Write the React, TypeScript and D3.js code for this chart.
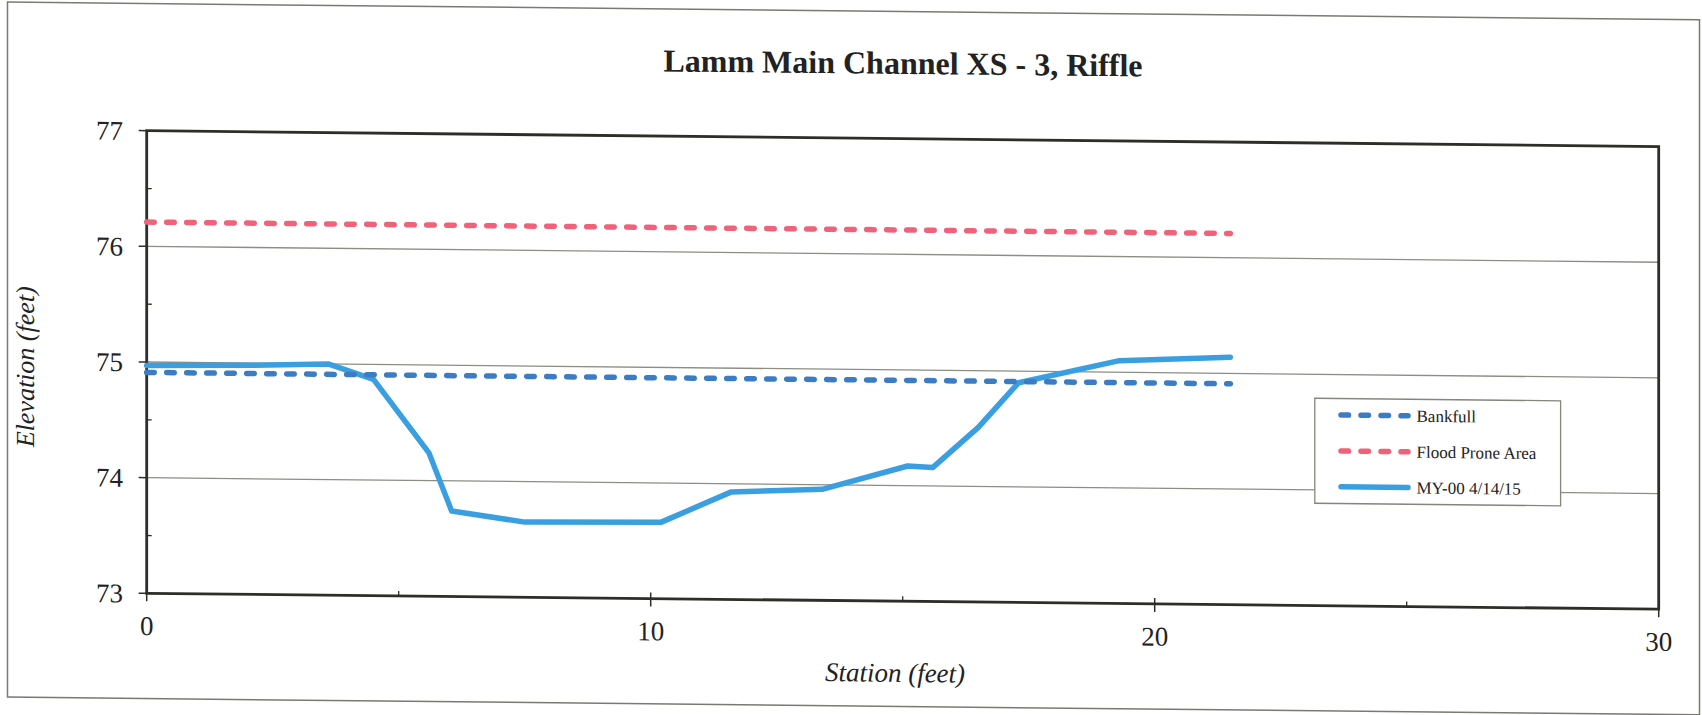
import React from "react";
import * as d3 from "d3";

// Surveyed cross-section (station ft, elevation ft)
const stations = [0, 2.0, 3.6, 4.5, 5.6, 6.05, 7.5, 10.2, 11.6, 13.4, 15.1, 15.6, 16.5, 17.3, 19.3, 21.5];
const elevations = [74.97, 74.98, 75.0, 74.87, 74.24, 73.74, 73.65, 73.66, 73.93, 73.96, 74.17, 74.16, 74.51, 74.9, 75.1, 75.14];

// Reference elevations drawn across the section
const refStations = [0, 21.5];
const bankfullElev = [74.91, 74.91];
const floodProneElev = [76.21, 76.21];

const xTicks = [0, 10, 20, 30];
const xMinorTicks = [5, 15, 25];
const yTicks = [73, 74, 75, 76, 77];
const yMinorTicks = [73.5, 74.5, 75.5, 76.5];
const gridValues = [74, 75, 76];

const legendLabels = ["Bankfull", "Flood Prone Area", "MY-00 4/14/15"];

const W = 1702;
const H = 715;
const plot = { left: 146.7, right: 1658.7, top: 130.7, bottom: 593.3 };
const SLOPE = 0.0105;

const C_BANK = "#3b7cc4";
const C_FLOOD = "#f0627a";
const C_SURVEY = "#3a9fe0";
const FONT = "'Liberation Serif', 'Times New Roman', serif";
const DASH = "7.5,12.5";

export default function App() {
  const x = d3.scaleLinear().domain([0, 30]).range([plot.left, plot.right]);
  const y = d3.scaleLinear().domain([73, 77]).range([plot.bottom, plot.top]);

  const line = d3
    .line<[number, number]>()
    .x((d) => x(d[0]))
    .y((d) => y(d[1]));

  const survey = line(stations.map((s, i) => [s, elevations[i]] as [number, number])) || "";
  const bankfull = line(refStations.map((s, i) => [s, bankfullElev[i]] as [number, number])) || "";
  const flood = line(refStations.map((s, i) => [s, floodProneElev[i]] as [number, number])) || "";

  const legend = { left: 1314.8, right: 1560.6, top: 386, bottom: 491 };
  const legendRows = [402.5, 438.5, 474.2];
  const legendStyles = [
    { stroke: C_BANK, dash: DASH as string | undefined },
    { stroke: C_FLOOD, dash: DASH as string | undefined },
    { stroke: C_SURVEY, dash: undefined as string | undefined },
  ];

  return (
    <svg
      width={W}
      height={H}
      style={{ position: "absolute", left: 0, top: 0, background: "#fff" }}
      fontFamily={FONT}
    >
      <rect x={0} y={0} width={W} height={H} fill="#fff" />
      <g transform={`matrix(1, ${SLOPE}, 0, 1, 0, ${-plot.left * SLOPE})`}>
        {/* chart frame */}
        <rect x={7.5} y={3.5} width={1692} height={695} fill="none" stroke="#7a7a72" strokeWidth={1.5} />

        <text x={903} y={66} textAnchor="middle" fontSize={32} fontWeight="bold" fill="#222">
          Lamm Main Channel XS - 3, Riffle
        </text>

        {/* gridlines */}
        {gridValues.map((v) => (
          <line key={v} x1={plot.left} x2={plot.right} y1={y(v)} y2={y(v)} stroke="#8d8d84" strokeWidth={1.3} />
        ))}

        {/* plot area border */}
        <rect
          x={plot.left}
          y={plot.top}
          width={plot.right - plot.left}
          height={plot.bottom - plot.top}
          fill="none"
          stroke="#2e2e28"
          strokeWidth={2.8}
        />

        {/* y axis ticks */}
        {yTicks.map((v) => (
          <g key={v}>
            <line x1={plot.left - 8} x2={plot.left} y1={y(v)} y2={y(v)} stroke="#2e2e28" strokeWidth={1.5} />
            <text x={123} y={y(v)} dy="0.35em" textAnchor="end" fontSize={27} fill="#222">
              {v}
            </text>
          </g>
        ))}
        {yMinorTicks.map((v) => (
          <line key={v} x1={plot.left} x2={plot.left + 5} y1={y(v)} y2={y(v)} stroke="#2e2e28" strokeWidth={1.3} />
        ))}

        {/* x axis ticks */}
        {xTicks.map((v) => (
          <g key={v}>
            <line x1={x(v)} x2={x(v)} y1={plot.bottom - 6} y2={plot.bottom + 8} stroke="#2e2e28" strokeWidth={1.5} />
            <text x={x(v)} y={635} textAnchor="middle" fontSize={27} fill="#222">
              {v}
            </text>
          </g>
        ))}
        {xMinorTicks.map((v) => (
          <line key={v} x1={x(v)} x2={x(v)} y1={plot.bottom - 5} y2={plot.bottom} stroke="#2e2e28" strokeWidth={1.3} />
        ))}

        {/* axis titles */}
        <text x={895} y={674} textAnchor="middle" fontSize={27} fontStyle="italic" fill="#222">
          Station (feet)
        </text>
        <text
          transform="translate(34, 368) rotate(-90)"
          textAnchor="middle"
          fontSize={26}
          fontStyle="italic"
          fill="#222"
        >
          Elevation (feet)
        </text>

        {/* series */}
        <path d={flood} fill="none" stroke={C_FLOOD} strokeWidth={5.5} strokeDasharray={DASH} strokeLinecap="round" />
        <path d={survey} fill="none" stroke={C_SURVEY} strokeWidth={5.5} strokeLinejoin="round" strokeLinecap="round" />
        <path d={bankfull} fill="none" stroke={C_BANK} strokeWidth={5.5} strokeDasharray={DASH} strokeLinecap="round" />

        {/* legend */}
        <rect
          x={legend.left}
          y={legend.top}
          width={legend.right - legend.left}
          height={legend.bottom - legend.top}
          fill="#fff"
          stroke="#85857c"
          strokeWidth={1.3}
        />
        {legendLabels.map((label, i) => (
          <g key={label}>
            <line
              x1={1341}
              x2={1408}
              y1={legendRows[i]}
              y2={legendRows[i]}
              stroke={legendStyles[i].stroke}
              strokeWidth={5.5}
              strokeDasharray={legendStyles[i].dash}
              strokeLinecap="round"
            />
            <text x={1416.5} y={legendRows[i]} dy="0.35em" fontSize={17} fill="#222">
              {label}
            </text>
          </g>
        ))}
      </g>
    </svg>
  );
}
